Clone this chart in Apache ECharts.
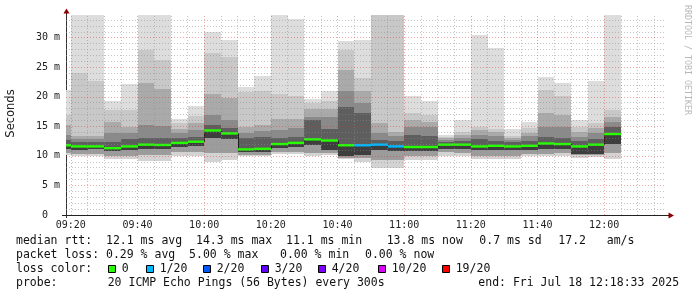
<!DOCTYPE html>
<html>
<head>
<meta charset="utf-8">
<script src="https://cdn.jsdelivr.net/npm/echarts@6/dist/echarts.min.js"></script>
<style>
html,body{margin:0;padding:0;background:#ffffff;}
#chart{width:697px;height:297px;}
</style>
</head>
<body>
<div id="chart"></div>
<script>
// ---- data (ms), one entry per 5-minute step, start time of the step ----
const times = ['09:15','09:20','09:25','09:30','09:35','09:40','09:45','09:50','09:55',
  '10:00','10:05','10:10','10:15','10:20','10:25','10:30','10:35','10:40','10:45','10:50','10:55',
  '11:00','11:05','11:10','11:15','11:20','11:25','11:30','11:35','11:40','11:45','11:50','11:55','12:00'];
// smoke: highest ping
const pingMax = [21.2,35,35,19.3,22.2,35,35,16.3,18.4,31.0,29.6,21.7,23.5,35,33.1,19.6,21.0,29.4,29.6,38,38,
  20.1,19.3,13.5,16.1,30.5,28.2,14.5,15.8,23.3,22.3,16.0,22.7,35];
// smoke: upper quantile levels (outer to inner)
const pingU1 = [17.0,24.0,22.7,17.8,17.8,28.0,26.3,15.5,16.8,27.4,26.7,20.8,21.0,20.4,20.1,18.9,19.3,28.0,23.1,35,35,
  17.2,16.9,13.2,14.0,14.9,14.5,13.4,14.7,21.1,20.1,14.9,15.5,17.8];
const pingU2 = [15.2,13.3,13.3,15.8,14.9,22.4,21.3,14.6,15.5,20.5,19.8,14.9,15.2,16.3,16.2,18.0,18.0,24.5,20.9,15.5,14.1,
  16.1,15.8,13.0,13.5,14.3,14.0,13.1,13.8,17.2,16.9,14.0,14.7,16.6];
const pingU3 = [13.5,12.9,12.9,13.8,13.8,15.2,15.0,13.8,14.4,17.0,16.1,13.8,14.2,14.4,14.7,16.6,16.6,21.0,19.0,13.8,13.3,
  14.9,14.9,12.7,13.0,13.5,13.4,12.7,13.3,14.9,14.9,13.25,13.8,15.8];
const pingU4 = [12.7,12.4,12.4,12.3,12.9,13.0,13.0,13.0,13.2,15.3,14.8,13.0,13.2,13.0,13.2,16.0,14.5,18.3,17.2,12.7,12.5,
  13.5,13.3,12.4,12.6,12.8,12.6,12.3,12.6,13.2,13.0,12.6,12.8,14.9];
// median rtt
const median = [11.8,11.6,11.6,11.3,11.6,11.9,11.85,12.2,12.4,14.3,13.8,11.1,11.2,12.0,12.2,12.8,12.6,11.8,11.8,11.9,11.6,
  11.5,11.5,11.9,11.9,11.6,11.7,11.6,11.7,12.1,12.0,11.6,11.9,13.7];
// smoke: lower quantile levels (inner to outer)
const pingL1 = [11.2,11.0,11.1,10.8,11.0,11.2,11.2,11.5,11.6,13.0,12.8,10.6,10.7,11.3,11.5,11.8,11.0,10.0,10.2,11.0,10.9,
  10.8,10.8,11.2,11.2,11.0,11.0,11.0,11.0,11.2,11.2,10.4,10.4,12.0];
const pingL2 = [10.5,10.3,10.3,10.0,10.0,10.2,10.2,10.6,10.6,10.5,10.5,10.2,10.2,10.6,10.7,10.5,10.5,9.7,9.6,9.3,9.3,
  10.0,10.0,10.6,10.5,9.9,10.0,10.0,10.3,10.4,10.5,10.1,10.1,10.5];
// smoke: lowest ping
const pingMin = [10.1,9.9,9.9,9.5,9.5,9.2,9.2,10.0,9.9,9.0,9.3,9.9,9.9,10.3,10.4,9.9,10.1,9.4,9.0,7.9,7.9,
  9.3,9.3,9.9,10.0,9.4,9.5,9.4,9.9,9.9,10.0,9.7,9.8,9.4];
// lost pings out of 20
const lossCount = [0,0,0,0,0,0,0,0,0,0,0,0,0,0,0,0,0,0,1,1,1,0,0,0,0,0,0,0,0,0,0,0,0,0];

const xTickLabels = ['09:20','09:40','10:00','10:20','10:40','11:00','11:20','11:40','12:00'];
const yTickValues = [0,5,10,15,20,25,30];
const rangeStart = '09:18:33', rangeEnd = '12:18:33';
const stepMinutes = 5;
const yMaxMs = 33.84;

const lossLevels = [0,1,2,3,4,10,19];
const lossLabels = ['0','1/20','2/20','3/20','4/20','10/20','19/20'];
const lossColors = ['#26ff00','#00b8ff','#0059ff','#5e00ff','#7e00ff','#dd00ff','#ff0000'];

// ---- helpers ----
function toMin(s){ const p = s.split(':').map(Number); return p[0]*60 + p[1] + (p[2]||0)/60; }
function fmtMin(v){ const h = Math.floor(v/60 + 1e-9), m = Math.round(v - h*60); return String(h).padStart(2,'0')+':'+String(m).padStart(2,'0'); }
function lossColor(n){ for (let k=0;k<lossLevels.length;k++){ if (n <= lossLevels[k]) return lossColors[k]; } return lossColors[lossColors.length-1]; }

const seriesData = times.map((t,i)=>[toMin(t), pingMin[i], pingL2[i], pingL1[i], median[i], pingU4[i], pingU3[i], pingU2[i], pingU1[i], pingMax[i], lossCount[i]]);

const bandColors = ['#d3d3d3','#9c9c9c','#3e3e3e','#5e5e5e','#8a8a8a','#aaaaaa','#c8c8c8','#dddddd'];

function renderSmoke(params, api){
  const t = api.value(0);
  const v = [];
  for (let k=1;k<=9;k++) v.push(api.value(k));
  const loss = api.value(10);
  const cs = params.coordSys;
  const x0 = Math.round(api.coord([t, 0])[0]);
  const x1 = Math.round(api.coord([t + stepMinutes, 0])[0]);
  const yOf = val => Math.round(api.coord([t, val])[1]);
  const children = [];
  for (let b=0;b<8;b++){
    const yt = yOf(v[b+1]), yb = yOf(v[b]);
    const r = echarts.graphic.clipRectByRect({x:x0, y:yt, width:x1-x0, height:yb-yt}, cs);
    if (r && r.width > 0 && r.height > 0) children.push({type:'rect', shape:r, style:{fill:bandColors[b]}});
  }
  const cy = api.coord([t, v[3]])[1];
  const i = params.dataIndex;
  if (i > 0 && x0 >= cs.x) {
    const py = api.coord([t, median[i-1]])[1];
    children.push({type:'line', shape:{x1:x0+0.5, y1:py, x2:x0+0.5, y2:cy}, style:{stroke:'#202020', lineWidth:1}});
  }
  const mr = echarts.graphic.clipRectByRect({x:x0, y:cy-1.2, width:x1-x0, height:2.4}, cs);
  if (mr && mr.width > 0) children.push({type:'rect', shape:mr, style:{fill:lossColor(loss)}});
  return {type:'group', children};
}

// grid lines from tick arrays
const xMajor = xTickLabels.map(toMin);
const xMinor = [];
for (let m = xMajor[0]; m <= toMin(rangeEnd); m += stepMinutes) { if (!xMajor.some(a=>Math.abs(a-m)<1e-6)) xMinor.push(m); }
const yMajor = yTickValues.filter(v=>v>0);
const yMinor = [];
for (let y = 1; y < yMaxMs; y += 1) { if (y % 5 !== 0) yMinor.push(y); }
const minorStyle = {color:'rgba(140,140,140,0.5)', width:1, type:[1,2]};
const majorStyle = {color:'rgba(225,40,40,0.42)', width:1, type:[1,2]};
const gridMarks = []
  .concat(xMinor.map(v=>({xAxis:v, lineStyle:minorStyle})))
  .concat(yMinor.map(v=>({yAxis:v, lineStyle:minorStyle})))
  .concat(xMajor.map(v=>({xAxis:v, lineStyle:majorStyle})))
  .concat(yMajor.map(v=>({yAxis:v, lineStyle:majorStyle})));

const MONO = '"DejaVu Sans Mono", monospace';
const legendFont = '11.5px ' + MONO;
function txt(x, y, s, extra){ return Object.assign({type:'text', x:x, y:y, silent:true, style:{text:s, font:legendFont, fill:'#111', align:'left', verticalAlign:'middle'}}, extra||{}); }

const graphics = [
  // axis extensions and arrows
  {type:'line', silent:true, shape:{x1:66.5, y1:218, x2:66.5, y2:12}, style:{stroke:'#333', lineWidth:1}},
  {type:'line', silent:true, shape:{x1:62, y1:215.5, x2:669, y2:215.5}, style:{stroke:'#222', lineWidth:1}},
  {type:'polygon', silent:true, shape:{points:[[66.5,8.5],[63.5,13.5],[69.5,13.5]]}, style:{fill:'#8b0000'}},
  {type:'polygon', silent:true, shape:{points:[[674,215.5],[668.5,212.5],[668.5,218.5]]}, style:{fill:'#8b0000'}},
  // y axis title
  {type:'text', silent:true, x:11, y:113.5, rotation:Math.PI/2, style:{text:'Seconds', font:'11.5px "DejaVu Sans", sans-serif', fill:'#222', align:'center', verticalAlign:'middle'}},
  // watermark
  {type:'text', silent:true, x:687, y:60, rotation:-Math.PI/2, style:{text:'RRDTOOL / TOBI OETIKER', font:'8.3px ' + MONO, fill:'#b8b8b8', align:'center', verticalAlign:'middle'}},
  // legend lines
  txt(16, 241, 'median rtt:  12.1 ms avg  14.3 ms max  11.1 ms min'),
  txt(386.7, 241, '13.8 ms now'),
  txt(479.3, 241, '0.7 ms sd'),
  txt(558.3, 241, '17.2   am/s'),
  txt(16, 255, 'packet loss: 0.29 % avg  5.00 % max'),
  txt(280, 255, '0.00 % min'),
  txt(365, 255, '0.00 % now'),
  txt(16, 269, 'loss color:'),
  txt(16, 283, 'probe:'),
  txt(107.7, 283, '20 ICMP Echo Pings (56 Bytes) every 300s'),
  txt(478.3, 283, 'end: Fri Jul 18 12:18:33 2025')
];
const boxX = [108.5, 146.5, 203.5, 261.5, 318.5, 378.5, 442.5];
lossLabels.forEach((lab, k) => {
  graphics.push({type:'rect', silent:true, shape:{x:boxX[k], y:265.5, width:7, height:7}, style:{fill:lossColors[k], stroke:'#000', lineWidth:1}});
  graphics.push(txt(boxX[k] + 13.2, 269, lab));
});

const chart = echarts.init(document.getElementById('chart'), null, {renderer:'canvas'});
chart.setOption({
  animation:false,
  backgroundColor:'#ffffff',
  grid:{left:66, right:31, top:15, bottom:82, containLabel:false},
  xAxis:{
    type:'value', min:toMin(rangeStart), max:toMin(rangeEnd),
    axisLine:{show:false}, axisTick:{show:false}, splitLine:{show:false},
    axisLabel:{customValues:xMajor, formatter:v=>fmtMin(v), margin:5, fontFamily:'DejaVu Sans Mono', fontSize:10, color:'#222'}
  },
  yAxis:{
    type:'value', min:0, max:yMaxMs,
    axisLine:{show:false}, axisTick:{show:false}, splitLine:{show:false},
    axisLabel:{customValues:yTickValues, formatter:v=> v===0 ? '0  ' : (v+' m'), margin:6, fontFamily:'DejaVu Sans Mono', fontSize:10, color:'#222'}
  },
  series:[
    {type:'custom', z:2, renderItem:renderSmoke, data:seriesData, encode:{x:0, y:4}, silent:true},
    {type:'line', z:5, data:[], silent:true, markLine:{silent:true, symbol:'none', animation:false, label:{show:false}, emphasis:{disabled:true}, data:gridMarks}}
  ],
  graphic:graphics
});
</script>
</body>
</html>
